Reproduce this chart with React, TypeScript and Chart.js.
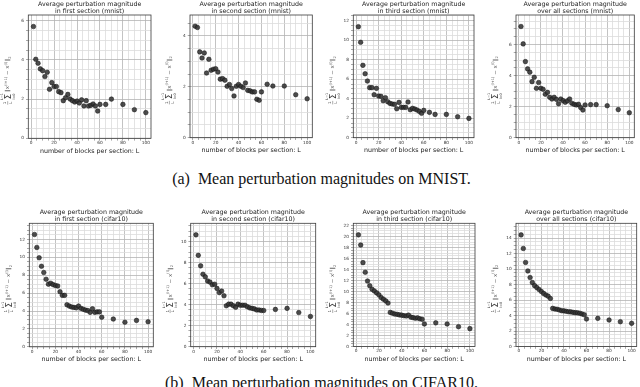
import React, { useEffect, useRef } from "react";
import { Chart, registerables } from "chart.js";
Chart.register(...registerables);

// ---------- data ----------
const L_MNIST = [2, 4, 6, 8, 10, 12, 14, 16, 18, 20, 22, 24, 26, 28, 30, 32, 34, 36, 38, 40, 42, 44, 46, 48, 50, 52, 54, 56, 58, 60, 65, 70, 80, 90, 100];
const L_CIFAR = [2, 4, 6, 8, 10, 12, 14, 16, 18, 20, 22, 24, 26, 28, 30, 32, 34, 36, 38, 40, 42, 44, 46, 48, 50, 52, 54, 56, 58, 60, 70, 80, 90, 100];

const MNIST_FIRST = [5.70, 4.03, 3.83, 3.54, 3.45, 3.15, 3.37, 2.50, 2.84, 2.64, 2.64, 2.38, 2.33, 1.92, 2.07, 2.24, 2.00, 1.92, 1.85, 1.90, 1.80, 1.96, 1.65, 1.92, 1.65, 1.68, 1.75, 1.65, 1.39, 1.73, 1.73, 2.00, 1.73, 1.46, 1.31];
const MNIST_SECOND = [4.38, 4.33, 3.37, 3.13, 3.33, 2.54, 3.08, 2.65, 2.69, 2.71, 2.58, 2.30, 2.32, 2.26, 2.02, 2.09, 1.93, 1.64, 2.02, 2.09, 2.02, 1.97, 2.15, 1.86, 1.84, 1.80, 1.80, 1.51, 1.47, 1.80, 2.10, 2.03, 2.03, 1.69, 1.53];
const MNIST_THIRD = [11.38, 9.78, 7.42, 6.56, 5.81, 5.13, 5.13, 4.41, 5.06, 4.27, 4.24, 3.79, 4.10, 3.69, 3.52, 3.45, 3.42, 2.97, 3.62, 3.11, 3.11, 3.11, 3.66, 2.87, 3.01, 2.94, 2.84, 2.70, 2.50, 2.80, 2.60, 2.39, 2.39, 2.15, 1.98];
const MNIST_ALL = [7.16, 6.04, 4.90, 4.43, 4.22, 3.61, 3.89, 3.18, 3.55, 3.18, 3.12, 2.80, 2.92, 2.60, 2.49, 2.60, 2.47, 2.19, 2.49, 2.39, 2.28, 2.37, 2.49, 2.22, 2.15, 2.11, 2.15, 1.94, 1.78, 2.11, 2.13, 2.13, 2.06, 1.81, 1.61];

const CIFAR_FIRST = [12.55, 11.10, 9.95, 9.00, 8.30, 7.55, 7.00, 7.10, 6.95, 6.85, 6.80, 6.15, 5.75, 5.75, 4.70, 4.55, 4.45, 4.40, 4.35, 4.55, 4.30, 4.20, 4.10, 4.05, 3.85, 4.25, 3.85, 3.90, 3.90, 3.30, 3.10, 2.75, 2.95, 2.80];
const CIFAR_SECOND = [10.65, 8.70, 7.70, 6.90, 6.65, 6.25, 6.15, 5.90, 5.95, 5.55, 5.15, 5.30, 4.85, 3.90, 4.05, 4.05, 3.90, 3.75, 4.05, 3.95, 3.95, 3.95, 3.80, 3.70, 3.65, 3.60, 3.50, 3.50, 3.45, 3.45, 3.55, 3.65, 3.25, 2.88];
const CIFAR_THIRD = [20.30, 18.45, 15.25, 13.50, 11.90, 11.05, 10.40, 10.10, 9.75, 9.40, 8.90, 8.60, 8.30, 7.90, 6.20, 6.05, 5.90, 5.85, 5.75, 5.70, 5.60, 5.55, 5.70, 5.35, 5.25, 5.15, 5.20, 5.05, 4.95, 4.10, 4.30, 4.10, 3.60, 3.25];
const CIFAR_ALL = [14.40, 12.65, 10.85, 9.75, 8.90, 8.25, 7.85, 7.60, 7.35, 7.10, 6.85, 6.65, 6.50, 6.20, 4.92, 4.84, 4.80, 4.71, 4.62, 4.60, 4.54, 4.49, 4.47, 4.41, 4.37, 4.35, 4.30, 4.20, 4.10, 3.55, 3.63, 3.42, 3.20, 2.99];

const TITLE_LINE1 = "Average perturbation magnitude";
const SUBTITLES = [
  "in first section (mnist)",
  "in second section (mnist)",
  "in third section (mnist)",
  "over all sections (mnist)",
  "in first section (cifar10)",
  "in second section (cifar10)",
  "in third section (cifar10)",
  "over all sections (cifar10)",
];
const X_LABEL = "number of blocks per section: L";
const X_MAJOR_TICKS = [0, 20, 40, 60, 80, 100];
const X_MINOR_STEP = 5;
const Y_MAJOR_STEP = 2;
const Y_MINOR_STEP = 0.5;
const X_RANGE = [-2.5, 104.5];
const Y_MAX = [6.29, 4.82, 12.58, 7.9, 13.8, 11.75, 22.4, 15.9];
const CAPTION_A = "(a)  Mean perturbation magnitudes on MNIST.";
const CAPTION_B = "(b)  Mean perturbation magnitudes on CIFAR10.";

// ---------- layout (page pixels of each plot frame) ----------
const FRAMES = [
  { l: 28.3, t: 15, r: 151, b: 138.3 },
  { l: 190, t: 15, r: 312.3, b: 137.7 },
  { l: 353.3, t: 15, r: 474, b: 137.7 },
  { l: 516, t: 15, r: 634.3, b: 137.7 },
  { l: 29.3, t: 223.3, r: 153.3, b: 346.8 },
  { l: 190.7, t: 223.3, r: 315.7, b: 346.7 },
  { l: 353.3, t: 223.3, r: 475, b: 346.5 },
  { l: 516, t: 223.3, r: 636.7, b: 346.5 },
];

const PANELS = [
  { xs: L_MNIST, ys: MNIST_FIRST },
  { xs: L_MNIST, ys: MNIST_SECOND },
  { xs: L_MNIST, ys: MNIST_THIRD },
  { xs: L_MNIST, ys: MNIST_ALL },
  { xs: L_CIFAR, ys: CIFAR_FIRST },
  { xs: L_CIFAR, ys: CIFAR_SECOND },
  { xs: L_CIFAR, ys: CIFAR_THIRD },
  { xs: L_CIFAR, ys: CIFAR_ALL },
];

const FONT = '"DejaVu Sans", sans-serif';
const MAJOR_GRID = "#b4b4b4";
const MINOR_GRID = "#dcdcdc";

function isMult(v: number, step: number) {
  const q = v / step;
  return Math.abs(q - Math.round(q)) < 1e-6;
}

function drawYLabel(ctx: CanvasRenderingContext2D, x: number, y: number) {
  ctx.save();
  ctx.translate(x, y);
  ctx.rotate(-Math.PI / 2);
  ctx.fillStyle = "#333";
  ctx.strokeStyle = "#333";
  ctx.textBaseline = "alphabetic";
  ctx.textAlign = "left";
  const f = (s: number) => `${s}px ${FONT}`;
  ctx.font = f(4);
  const fracW = Math.max(ctx.measureText("1").width, ctx.measureText("L").width) + 1;
  ctx.font = f(8.5);
  const sigW0 = ctx.measureText("Σ").width;
  ctx.font = f(3.4);
  const sigW = Math.max(sigW0, ctx.measureText("L−1").width, ctx.measureText("l=0").width);
  const main = [
    { t: "‖x", s: 5.5, dy: 0 },
    { t: "(l+1)", s: 3.6, dy: -2.8 },
    { t: " − x", s: 5.5, dy: 0 },
    { t: "(l)", s: 3.6, dy: -2.8 },
    { t: "‖", s: 5.5, dy: 0 },
    { t: "2", s: 3.6, dy: 1.4 },
  ];
  let mainW = 0;
  for (const m of main) {
    ctx.font = f(m.s);
    mainW += ctx.measureText(m.t).width;
  }
  const gap = 1.2;
  const W = fracW + gap + sigW + gap + mainW;
  let cx = -W / 2;
  const base = 2;
  ctx.font = f(4);
  ctx.textAlign = "center";
  ctx.fillText("1", cx + fracW / 2, base - 3.2);
  ctx.fillText("L", cx + fracW / 2, base + 2.6);
  ctx.lineWidth = 0.4;
  ctx.beginPath();
  ctx.moveTo(cx, base - 1.6);
  ctx.lineTo(cx + fracW, base - 1.6);
  ctx.stroke();
  cx += fracW + gap;
  ctx.font = f(8.5);
  ctx.fillText("Σ", cx + sigW / 2, base + 1.2);
  ctx.font = f(3.4);
  ctx.fillText("L−1", cx + sigW / 2, base - 6.6);
  ctx.fillText("l=0", cx + sigW / 2, base + 5.2);
  cx += sigW + gap;
  ctx.textAlign = "left";
  ctx.fillStyle = "#666";
  for (const m of main) {
    ctx.font = f(m.s);
    ctx.fillText(m.t, cx, base + m.dy);
    cx += ctx.measureText(m.t).width;
  }
  ctx.restore();
}

const decorPlugin = {
  id: "decor",
  afterDraw(chart: any, _args: any, opts: any) {
    const { ctx, chartArea: a } = chart;
    ctx.save();
    ctx.strokeStyle = "#3a3a3a";
    ctx.lineWidth = 0.8;
    ctx.strokeRect(a.left, a.top, a.right - a.left, a.bottom - a.top);
    ctx.fillStyle = "#1a1a1a";
    ctx.font = `6.3px ${FONT}`;
    ctx.textAlign = "center";
    ctx.textBaseline = "alphabetic";
    const cx = (a.left + a.right) / 2;
    ctx.fillText(opts.line1, cx, a.top - 9.3);
    ctx.fillText(opts.line2, cx, a.top - 2);
    drawYLabel(ctx, a.left - 21, (a.top + a.bottom) / 2 + 4);
    ctx.restore();
  },
};

function Panel({ idx }: { idx: number }) {
  const ref = useRef<HTMLCanvasElement>(null);
  const fr = FRAMES[idx];
  const cl = Math.floor(fr.l) - 30;
  const ct = Math.floor(fr.t) - 17;
  const cw = Math.ceil(fr.r) + 6 - cl;
  const ch = Math.ceil(fr.b) + 22 - ct;

  useEffect(() => {
    const canvas = ref.current!;
    const { xs, ys } = PANELS[idx];
    const yMax = Y_MAX[idx];
    const xTitleCenter = fr.b + 12.7;
    const xTitleLH = 6.3 * 1.2;
    const xMinor: number[] = [];
    for (let v = 0; v <= X_RANGE[1] + 1e-9; v += X_MINOR_STEP) if (v >= X_RANGE[0]) xMinor.push(v);
    const yMinor: number[] = [];
    for (let k = 0; k * Y_MINOR_STEP <= yMax + 1e-9; k++) yMinor.push(+(k * Y_MINOR_STEP).toFixed(4));

    const chart = new Chart(canvas, {
      type: "scatter",
      data: {
        datasets: [
          {
            data: xs.map((x, i) => ({ x, y: ys[i] })),
            pointRadius: 2.3,
            pointBackgroundColor: "rgba(52,52,52,0.88)",
            pointBorderColor: "#111",
            pointBorderWidth: 0.5,
            showLine: false,
          },
        ],
      },
      options: {
        responsive: false,
        animation: false,
        devicePixelRatio: 1,
        layout: {
          padding: { left: 0, top: fr.t - ct, right: cl + cw - fr.r, bottom: 0 },
        },
        plugins: {
          legend: { display: false },
          tooltip: { enabled: false },
          title: { display: false },
          decor: { line1: TITLE_LINE1, line2: SUBTITLES[idx] },
        } as any,
        scales: {
          x: {
            type: "linear",
            min: X_RANGE[0],
            max: X_RANGE[1],
            afterFit: (s: any) => {
              s.height = ct + ch - fr.b;
            },
            afterBuildTicks: (s: any) => {
              s.ticks = xMinor.map((v) => ({ value: v }));
            },
            ticks: {
              autoSkip: false,
              maxRotation: 0,
              minRotation: 0,
              padding: 0,
              color: "#333",
              font: { size: 4.3, family: FONT },
              callback: (v: any) => (X_MAJOR_TICKS.includes(Number(v)) ? String(v) : ""),
            },
            grid: {
              color: (c: any) => (c.tick && X_MAJOR_TICKS.includes(c.tick.value) ? MAJOR_GRID : MINOR_GRID),
              lineWidth: 0.8,
              tickLength: 2.3,
              tickColor: "#555",
              tickWidth: 0.5,
            },
            border: { display: false },
            title: {
              display: true,
              text: X_LABEL,
              color: "#1a1a1a",
              font: { size: 6.3, family: FONT },
              padding: { top: 0, bottom: ct + ch - xTitleCenter - xTitleLH / 2 },
            },
          },
          y: {
            type: "linear",
            min: 0,
            max: yMax,
            afterFit: (s: any) => {
              s.width = fr.l - cl;
            },
            afterBuildTicks: (s: any) => {
              s.ticks = yMinor.map((v) => ({ value: v }));
            },
            ticks: {
              autoSkip: false,
              padding: 2,
              color: "#333",
              font: { size: 4.3, family: FONT },
              callback: (v: any) => (isMult(Number(v), Y_MAJOR_STEP) ? String(Math.round(Number(v))) : ""),
            },
            grid: {
              color: (c: any) => (c.tick && isMult(c.tick.value, Y_MAJOR_STEP) ? MAJOR_GRID : MINOR_GRID),
              lineWidth: 0.8,
              tickLength: 2.3,
              tickColor: "#555",
              tickWidth: 0.5,
            },
            border: { display: false },
          },
        },
      },
      plugins: [decorPlugin as any],
    });
    return () => chart.destroy();
  }, []);

  return (
    <canvas
      ref={ref}
      width={cw}
      height={ch}
      style={{ position: "absolute", left: cl, top: ct, width: cw, height: ch }}
    />
  );
}

const captionStyle: React.CSSProperties = {
  position: "absolute",
  left: 0,
  width: 643,
  textAlign: "center",
  fontFamily: '"Liberation Serif", "Times New Roman", serif',
  fontSize: 16,
  lineHeight: "16px",
  color: "#111",
  whiteSpace: "pre",
};

export default function App() {
  return (
    <div
      style={{
        position: "absolute",
        left: 0,
        top: 0,
        width: 640,
        height: 387,
        overflow: "hidden",
        background: "#fff",
      }}
    >
      {FRAMES.map((_, i) => (
        <Panel key={i} idx={i} />
      ))}
      <div style={{ ...captionStyle, top: 170.5 }}>{CAPTION_A}</div>
      <div style={{ ...captionStyle, top: 374.5 }}>{CAPTION_B}</div>
    </div>
  );
}
